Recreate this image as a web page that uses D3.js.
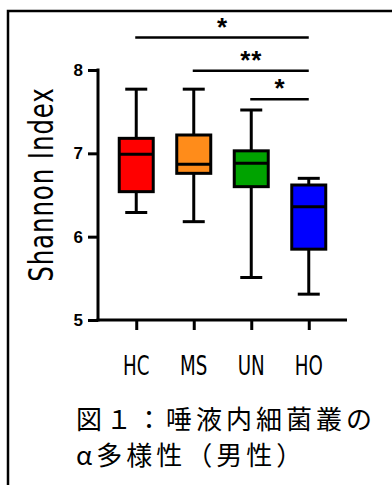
<!DOCTYPE html>
<html>
<head>
<meta charset="utf-8">
<script src="https://cdn.jsdelivr.net/npm/d3@7"></script>
<style>
  body { margin: 0; background: #fff; }
  svg { display: block; }
</style>
</head>
<body>
<div id="chart"></div>
<script>
// values
var groups = ["HC", "MS", "UN", "HO"];
var whiskerMin = [6.29, 6.18, 5.51, 5.31];
var q1 = [6.54, 6.76, 6.60, 5.85];
var medians = [6.99, 6.87, 6.88, 6.36];
var q3 = [7.18, 7.22, 7.03, 6.62];
var whiskerMax = [7.77, 7.77, 7.52, 6.70];
var yTicks = [5, 6, 7, 8];

// significance brackets
var compFrom = ["HC", "MS", "UN"];
var compTo = ["HO", "HO", "HO"];
var compLabel = ["*", "**", "*"];
var compLevel = [8.39, 7.99, 7.65];

var caption = ["図１：唾液内細菌叢の", "α多様性（男性）"];

var width = 392,
    height = 485,
    svg = d3.select("#chart").append("svg")
      .attr("width", width)
      .attr("height", height);

var boxes = groups.map(function (g, i) {
  return { group: g, min: whiskerMin[i], q1: q1[i], med: medians[i], q3: q3[i], max: whiskerMax[i] };
});

var x = d3.scalePoint().domain(groups).range([98, 347]).padding(0.665),
    y = d3.scaleLinear().domain([5, 8]).range([320, 70]),
    color = d3.scaleOrdinal().domain(groups).range(["#ff0000", "#ff8c1a", "#00a300", "#0000ff"]);

// frame
svg.append("rect")
  .attr("x", 8).attr("y", 11)
  .attr("width", 420).attr("height", 520)
  .attr("fill", "none").attr("stroke", "#000").attr("stroke-width", 2.5);

// axes
var yAxis = svg.append("g")
  .attr("transform", "translate(98,0)")
  .call(d3.axisLeft(y).tickValues(yTicks).tickFormat(d3.format("d")).tickSize(10).tickSizeOuter(0).tickPadding(5));
var xAxis = svg.append("g")
  .attr("transform", "translate(0,320)")
  .call(d3.axisBottom(x).tickSize(10).tickSizeOuter(0).tickFormat(""));
[xAxis, yAxis].forEach(function (a) {
  a.select(".domain").attr("stroke", "#000").attr("stroke-width", 3);
  a.selectAll(".tick line").attr("stroke", "#000").attr("stroke-width", 3);
});
// let the x axis line reach the y axis corner
xAxis.select(".domain").attr("d", "M96.5,0H347");
yAxis.select(".domain").attr("d", "M0,68.5V321.5");
yAxis.selectAll(".tick text")
  .attr("font-family", "'Liberation Sans', Arial, sans-serif")
  .attr("font-weight", "bold")
  .attr("font-size", 17)
  .attr("fill", "#000");

// category labels
svg.append("g").selectAll("text")
  .data(groups)
  .enter().append("text")
  .attr("transform", function (d) { return "translate(" + x(d) + ",375) scale(0.78,1)"; })
  .attr("text-anchor", "middle")
  .attr("font-family", "'DejaVu Sans Condensed', 'DejaVu Sans', sans-serif")
  .attr("font-size", 26)
  .attr("fill", "#000")
  .text(function (d) { return d; });

// y label
svg.append("text")
  .attr("transform", "translate(53,185) rotate(-90) scale(0.8,1)")
  .attr("text-anchor", "middle")
  .attr("font-family", "'DejaVu Sans Condensed', 'DejaVu Sans', sans-serif")
  .attr("font-size", 34)
  .attr("textLength", 242)
  .attr("lengthAdjust", "spacing")
  .text("Shannon Index");

// boxes
var boxW = 34, capW = 22;
var b = svg.append("g").selectAll("g")
  .data(boxes)
  .enter().append("g")
  .attr("stroke", "#000").attr("stroke-width", 3);

b.append("line")
  .attr("x1", function (d) { return x(d.group); })
  .attr("x2", function (d) { return x(d.group); })
  .attr("y1", function (d) { return y(d.max); })
  .attr("y2", function (d) { return y(d.min); });
b.append("line")
  .attr("x1", function (d) { return x(d.group) - capW / 2; })
  .attr("x2", function (d) { return x(d.group) + capW / 2; })
  .attr("y1", function (d) { return y(d.max); })
  .attr("y2", function (d) { return y(d.max); });
b.append("line")
  .attr("x1", function (d) { return x(d.group) - capW / 2; })
  .attr("x2", function (d) { return x(d.group) + capW / 2; })
  .attr("y1", function (d) { return y(d.min); })
  .attr("y2", function (d) { return y(d.min); });
b.append("rect")
  .attr("x", function (d) { return x(d.group) - boxW / 2; })
  .attr("width", boxW)
  .attr("y", function (d) { return y(d.q3); })
  .attr("height", function (d) { return y(d.q1) - y(d.q3); })
  .attr("fill", function (d) { return color(d.group); });
b.append("line")
  .attr("x1", function (d) { return x(d.group) - boxW / 2; })
  .attr("x2", function (d) { return x(d.group) + boxW / 2; })
  .attr("y1", function (d) { return y(d.med); })
  .attr("y2", function (d) { return y(d.med); });

// brackets
var comps = compFrom.map(function (f, i) {
  return { from: f, to: compTo[i], label: compLabel[i], level: compLevel[i] };
});
var c = svg.append("g").selectAll("g").data(comps).enter().append("g");
c.append("line")
  .attr("x1", function (d) { return x(d.from) - 1; })
  .attr("x2", function (d) { return x(d.to); })
  .attr("y1", function (d) { return y(d.level); })
  .attr("y2", function (d) { return y(d.level); })
  .attr("stroke", "#000").attr("stroke-width", 2.5);
c.append("text")
  .attr("x", function (d) { return (x(d.from) + x(d.to)) / 2; })
  .attr("y", function (d) { return y(d.level) - 2; })
  .attr("text-anchor", "middle")
  .attr("font-family", "'Liberation Sans', Arial, sans-serif")
  .attr("font-weight", "bold")
  .attr("font-size", 26)
  .attr("letter-spacing", 1)
  .text(function (d) { return d.label; });

// caption
svg.append("g").selectAll("text")
  .data(caption)
  .enter().append("text")
  .attr("x", 76)
  .attr("y", function (d, i) { return 429 + i * 36; })
  .attr("font-family", "'Noto Sans CJK JP', sans-serif")
  .attr("font-size", 26)
  .attr("letter-spacing", 4)
  .attr("fill", "#000")
  .text(function (d) { return d; });
</script>
</body>
</html>
